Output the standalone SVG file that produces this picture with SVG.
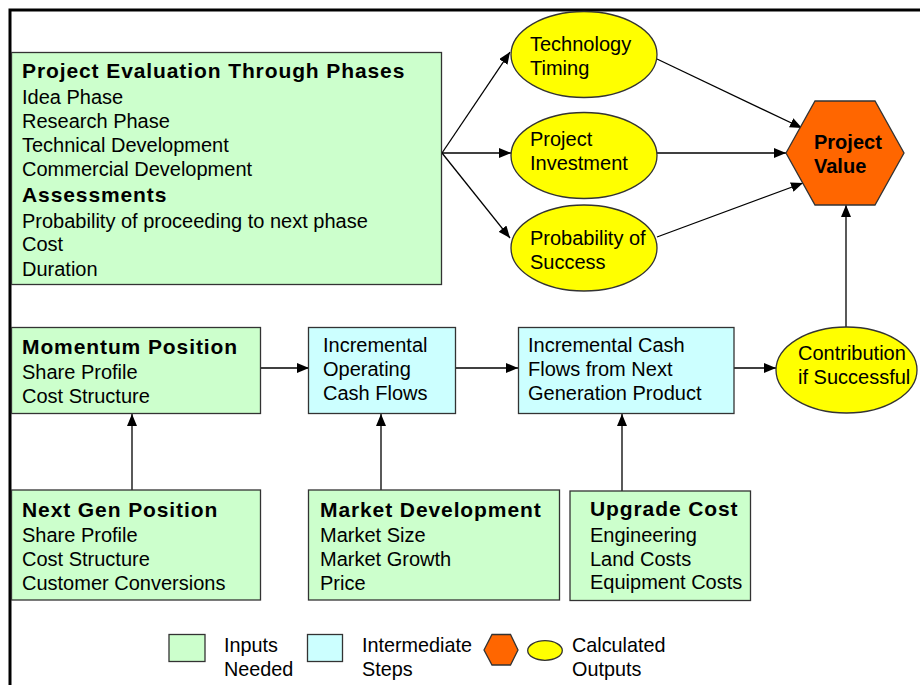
<svg xmlns="http://www.w3.org/2000/svg" width="920" height="685" viewBox="0 0 920 685">
<style>
.t{font-family:"Liberation Sans",Arial,sans-serif;font-size:20px;fill:#000}
.b{font-family:"Liberation Sans",Arial,sans-serif;font-size:21px;font-weight:bold;letter-spacing:0.9px;fill:#000}
.hb{font-family:"Liberation Sans",Arial,sans-serif;font-size:20px;font-weight:bold;fill:#000}
.l{font-family:"Liberation Sans",Arial,sans-serif;font-size:19.8px;fill:#000}
.in{fill:#CCFFCC;stroke:#333;stroke-width:1.3}
.mid{fill:#CCFFFF;stroke:#333;stroke-width:1.3}
.out{fill:#FFFF00;stroke:#333;stroke-width:1.3}
.hex{fill:#FF6600;stroke:#333;stroke-width:1.3}
.c{fill:none;stroke:#000;stroke-width:1.3;marker-end:url(#ah)}
</style>
<defs>
<marker id="ah" viewBox="0 0 12 10" refX="12" refY="5" markerWidth="12" markerHeight="10" markerUnits="userSpaceOnUse" orient="auto">
<path d="M0,0 L12,5 L0,10 z" fill="#000"/>
</marker>
</defs>
<rect width="920" height="685" fill="#fff"/>
<path d="M10,685 L10,10 L920,10" fill="none" stroke="#000" stroke-width="3"/>

<g id="connectors">
<path class="c" d="M442,153 L510,52"/>
<path class="c" d="M442,153 L511,153"/>
<path class="c" d="M442,153 L510,238"/>
<path class="c" d="M657,59 L802,128"/>
<path class="c" d="M657,153 L786,153"/>
<path class="c" d="M657,237 L803,183"/>
<path class="c" d="M846,327 L846,205"/>
<path class="c" d="M260,368 L309,368"/>
<path class="c" d="M455,368 L518,368"/>
<path class="c" d="M734,368 L776,368"/>
<path class="c" d="M132,490 L132,414"/>
<path class="c" d="M381,490 L381,414"/>
<path class="c" d="M622,491 L622,414"/>
</g>

<g id="project-evaluation">
<rect class="in" x="11.5" y="52.5" width="430" height="232"/>
<text class="b" x="22" y="78">Project Evaluation Through Phases</text>
<text class="t" x="22" y="104">Idea Phase</text>
<text class="t" x="22" y="128">Research Phase</text>
<text class="t" x="22" y="152">Technical Development</text>
<text class="t" x="22" y="176">Commercial Development</text>
<text class="b" x="22" y="202">Assessments</text>
<text class="t" x="22" y="228">Probability of proceeding to next phase</text>
<text class="t" x="22" y="251">Cost</text>
<text class="t" x="22" y="276">Duration</text>
</g>

<g id="technology-timing">
<ellipse class="out" cx="584" cy="54.5" rx="73" ry="43"/>
<text class="t" x="530" y="51">Technology</text>
<text class="t" x="530" y="75">Timing</text>
</g>

<g id="project-investment">
<ellipse class="out" cx="584" cy="155.5" rx="73" ry="43"/>
<text class="t" x="530" y="146">Project</text>
<text class="t" x="530" y="170">Investment</text>
</g>

<g id="probability-of-success">
<ellipse class="out" cx="584" cy="248" rx="73" ry="43"/>
<text class="t" x="530" y="245">Probability of</text>
<text class="t" x="530" y="269">Success</text>
</g>

<g id="project-value">
<polygon class="hex" points="786,153 815,101 875,101 904,153 875,205 815,205"/>
<text class="hb" x="814" y="149">Project</text>
<text class="hb" x="814" y="173">Value</text>
</g>

<g id="momentum-position">
<rect class="in" x="11.5" y="327.5" width="249" height="86"/>
<text class="b" x="22" y="354">Momentum Position</text>
<text class="t" x="22" y="379">Share Profile</text>
<text class="t" x="22" y="403">Cost Structure</text>
</g>

<g id="incremental-operating">
<rect class="mid" x="308.5" y="327.5" width="147" height="86"/>
<text class="t" x="323" y="352">Incremental</text>
<text class="t" x="323" y="376">Operating</text>
<text class="t" x="323" y="400">Cash Flows</text>
</g>

<g id="incremental-next-gen">
<rect class="mid" x="518.5" y="327.5" width="215.5" height="86"/>
<text class="t" x="528" y="352">Incremental Cash</text>
<text class="t" x="528" y="376">Flows from Next</text>
<text class="t" x="528" y="400">Generation Product</text>
</g>

<g id="contribution">
<ellipse class="out" cx="846.5" cy="370" rx="70.5" ry="43"/>
<text class="t" x="798" y="360">Contribution</text>
<text class="t" x="798" y="384">if Successful</text>
</g>

<g id="next-gen-position">
<rect class="in" x="11.5" y="490" width="249" height="110"/>
<text class="b" x="22" y="517">Next Gen Position</text>
<text class="t" x="22" y="542">Share Profile</text>
<text class="t" x="22" y="566">Cost Structure</text>
<text class="t" x="22" y="590">Customer Conversions</text>
</g>

<g id="market-development">
<rect class="in" x="308.5" y="490" width="251" height="110"/>
<text class="b" x="320" y="517">Market Development</text>
<text class="t" x="320" y="542">Market Size</text>
<text class="t" x="320" y="566">Market Growth</text>
<text class="t" x="320" y="590">Price</text>
</g>

<g id="upgrade-cost">
<rect class="in" x="570" y="491" width="180.5" height="109.5"/>
<text class="b" x="590" y="516">Upgrade Cost</text>
<text class="t" x="590" y="542">Engineering</text>
<text class="t" x="590" y="566">Land Costs</text>
<text class="t" x="590" y="589">Equipment Costs</text>
</g>

<g id="legend">
<rect class="in" x="169" y="634.5" width="36" height="27"/>
<text class="l" x="224" y="652">Inputs</text>
<text class="l" x="224" y="676">Needed</text>
<rect class="mid" x="307.5" y="634.5" width="35" height="27"/>
<text class="l" x="362" y="652">Intermediate</text>
<text class="l" x="362" y="676">Steps</text>
<polygon class="hex" points="484,650 492,634.5 510.5,634.5 518,650 510.5,665 492,665"/>
<ellipse class="out" cx="545" cy="650.5" rx="17.3" ry="9.8"/>
<text class="l" x="572" y="652">Calculated</text>
<text class="l" x="572" y="676">Outputs</text>
</g>
</svg>
